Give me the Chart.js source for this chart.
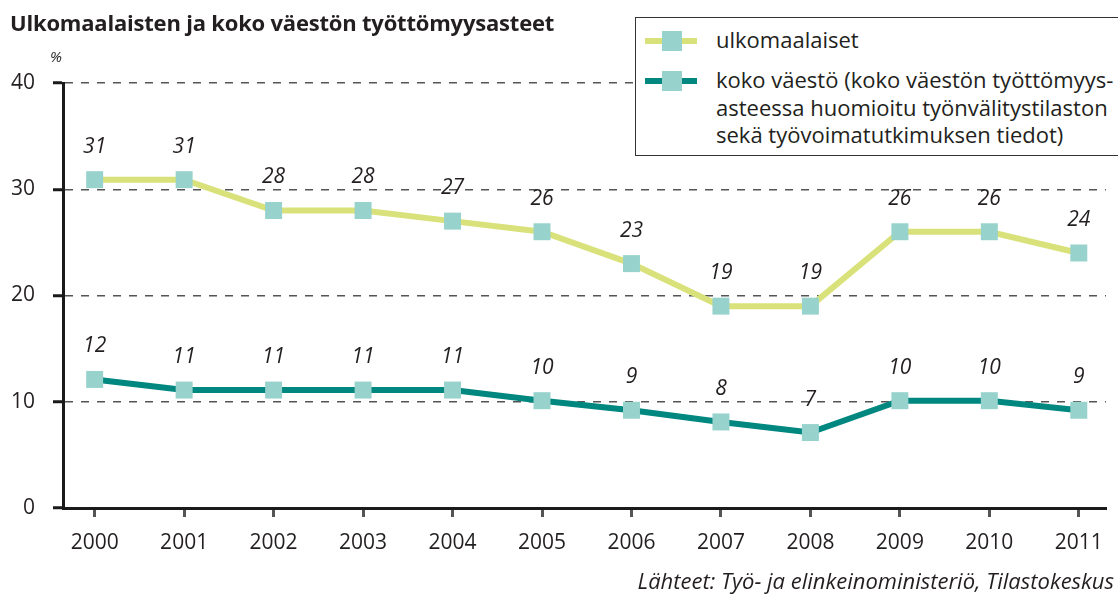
<!DOCTYPE html>
<html>
<head>
<meta charset="utf-8">
<script src="https://cdn.jsdelivr.net/npm/chart.js@4"></script>
<style>
  body { margin: 0; background: #fff; font-family: "Open Sans", sans-serif; color: #231f20; }
  #wrap { position: relative; width: 1118px; height: 597px; overflow: hidden; }
  #c { position: absolute; left: 0; top: 0; }
  .title { position: absolute; left: 10px; top: 7px; font-size: 22px; font-weight: bold; letter-spacing: -0.2px; }
  .pct { position: absolute; left: 50px; top: 46px; font-size: 15px; font-style: italic; }
  .src { position: absolute; right: 4px; top: 565px; font-size: 22px; font-style: italic; }
  .legend { position: absolute; left: 635px; top: 17px; width: 490px; height: 137px; border: 1px solid #333; background: #fff; }
  .sym { position: absolute; left: 9px; width: 52px; height: 6px; }
  .sym span { position: absolute; left: 17px; top: -7px; width: 20px; height: 20px; background: #97d2cc; }
  .txt { position: absolute; left: 80px; font-size: 22px; line-height: 27.5px; white-space: nowrap; }
</style>
</head>
<body>
<div id="wrap">
  <canvas id="c" width="1118" height="597"></canvas>
  <div class="title">Ulkomaalaisten ja koko väestön työttömyysasteet</div>
  <div class="pct">%</div>
  <div class="legend">
    <div class="sym" style="top:20px;background:#d9e27a"><span></span></div>
    <div class="txt" style="top:8px">ulkomaalaiset</div>
    <div class="sym" style="top:60px;background:#00877f"><span></span></div>
    <div class="txt" style="top:48px">koko väestö (koko väestön työttömyys-<br>asteessa huomioitu työnvälitystilaston<br>sekä työvoimatutkimuksen tiedot)</div>
  </div>
  <div class="src">Lähteet: Työ- ja elinkeinoministeriö, Tilastokeskus</div>
</div>
<script>
var years = [2000, 2001, 2002, 2003, 2004, 2005, 2006, 2007, 2008, 2009, 2010, 2011]
var ulkomaalaiset = [30.9, 30.9, 28.0, 28.0, 27.0, 26.0, 23.0, 19.0, 19.0, 26.0, 26.0, 24.0]
var kokoVaesto = [12.1, 11.1, 11.1, 11.1, 11.1, 10.1, 9.2, 8.1, 7.1, 10.1, 10.1, 9.2]
var yTicks = [0, 10, 20, 30, 40]

function pts(vals) {
  return years.map(function(y, i) { return { x: y, y: vals[i] } })
}

// arvot pisteiden yläpuolelle
var valueLabels = {
  id: 'valueLabels',
  afterDatasetsDraw: function(chart) {
    var ctx = chart.ctx
    ctx.save()
    ctx.font = 'italic 21px "Open Sans"'
    ctx.fillStyle = '#231f20'
    ctx.textAlign = 'center'
    ctx.textBaseline = 'middle'
    chart.data.datasets.forEach(function(ds, di) {
      chart.getDatasetMeta(di).data.forEach(function(p, i) {
        ctx.fillText(String(Math.round(ds.data[i].y)), p.x, p.y - 33)
      })
    })
    ctx.restore()
  }
}

var ctx = document.getElementById('c').getContext('2d')
var chart = new Chart(ctx, {
  type: 'line',
  data: {
    datasets: [{
      label: 'ulkomaalaiset',
      data: pts(ulkomaalaiset),
      borderColor: '#d9e27a',
      borderWidth: 6,
      pointStyle: 'rect',
      pointRadius: 12,
      pointBackgroundColor: '#97d2cc',
      pointBorderWidth: 0,
      tension: 0
    }, {
      label: 'koko väestö',
      data: pts(kokoVaesto),
      borderColor: '#00877f',
      borderWidth: 6,
      pointStyle: 'rect',
      pointRadius: 12,
      pointBackgroundColor: '#97d2cc',
      pointBorderWidth: 0,
      tension: 0
    }]
  },
  options: {
    responsive: false,
    animation: false,
    layout: { padding: { left: 0, right: 0, top: 83, bottom: 0 } },
    plugins: { legend: { display: false }, tooltip: { enabled: false }, title: { display: false } },
    scales: {
      x: {
        type: 'linear',
        min: 1999.646,
        max: 2011.304,
        afterFit: function(s) { s.height = 89 },
        border: { color: '#1a1a1a', width: 3 },
        grid: { drawOnChartArea: false, tickLength: 9, tickColor: '#555', tickWidth: 3 },
        ticks: {
          stepSize: 1,
          includeBounds: false,
          autoSkip: false,
          maxRotation: 0,
          padding: 13,
          color: '#231f20',
          font: { family: 'Open Sans', size: 21 },
          callback: function(v) { return years.indexOf(v) >= 0 ? String(v) : '' }
        }
      },
      y: {
        min: 0,
        max: 40,
        afterFit: function(s) { s.width = 63 },
        afterBuildTicks: function(s) { s.ticks = yTicks.map(function(v) { return { value: v } }) },
        border: { color: '#1a1a1a', width: 3, dash: [8, 8] },
        grid: {
          color: function(c) { return c.tick && c.tick.value === 0 ? 'rgba(0,0,0,0)' : '#555' },
          lineWidth: 1.5,
          tickBorderDash: [],
          tickLength: 10,
          tickColor: '#1a1a1a',
          tickWidth: 3
        },
        ticks: {
          padding: 18,
          color: '#231f20',
          font: { family: 'Open Sans', size: 21 }
        }
      }
    }
  },
  plugins: [valueLabels]
})
</script>
</body>
</html>
